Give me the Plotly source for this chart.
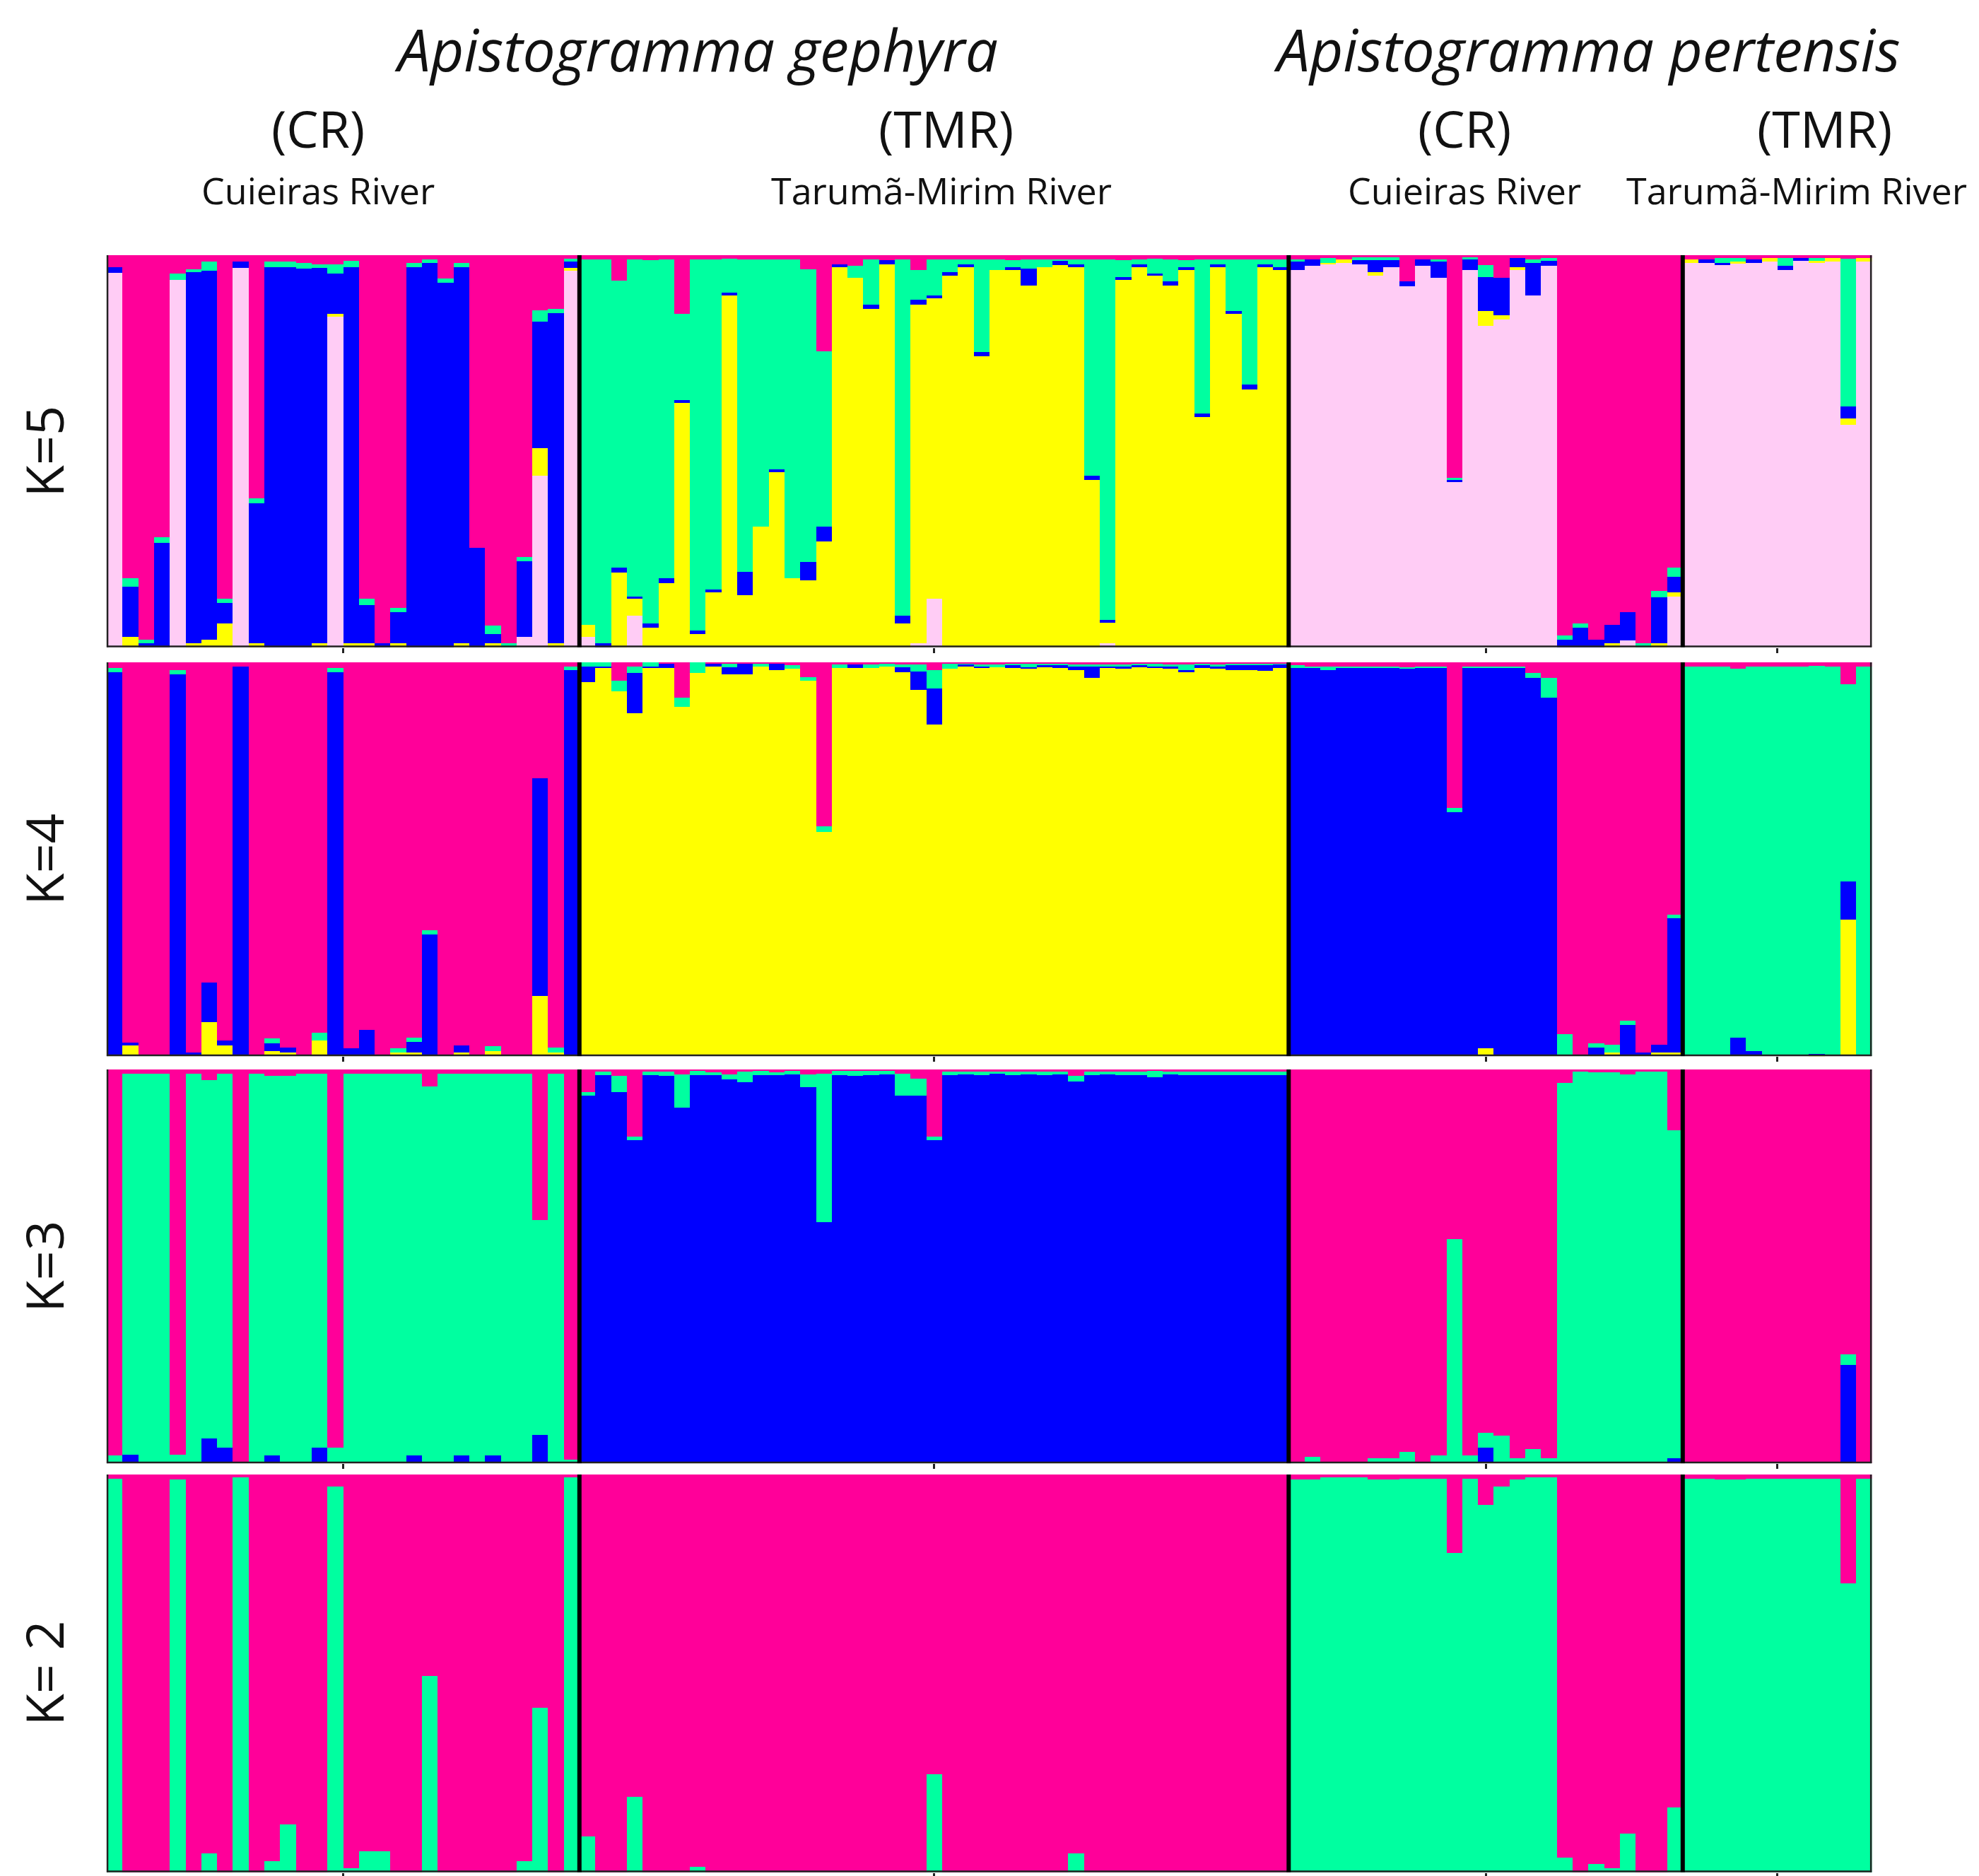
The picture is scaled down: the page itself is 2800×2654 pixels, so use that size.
import plotly.graph_objects as go

# group sizes (individuals per population), in plotting order
groups = ["A. gephyra CR", "A. gephyra TMR", "A. pertensis CR", "A. pertensis TMR"]
group_sizes = [30, 45, 25, 12]

# cluster colours
PINK = "#FF0099"
BLUE = "#0000FF"
GREEN = "#00FFA0"
YELLOW = "#FFFF00"
LPINK = "#FFCCF5"

# ---- K=5 membership (bottom -> top: light pink, yellow, blue, green, pink = rest)
k5_lightpink = (
    [.955, 0, 0, 0, .937, 0, 0, 0, .967, 0, 0, 0, 0, 0, .843, 0, 0, 0, 0, 0, 0, 0, 0, 0, 0, 0, .027, .437, 0, .96]
    + [.027, 0, 0, .08, 0, 0, 0, 0, 0, 0, 0, 0, 0, 0, 0, 0, 0, 0, 0, 0, 0, .01, .123, 0, 0, 0, 0, 0, 0, 0,
       0, 0, 0, .01, 0, 0, 0, 0, 0, 0, 0, 0, 0, 0, 0]
    + [.963, .973, .977, .98, .977, .947, .97, .92, .973, .943, .423, .963, .82, .836, .963, .897, .973,
       0, 0, 0, 0, .017, 0, 0, .13]
    + [.98, .98, .975, .978, .98, .983, .963, .985, .98, .983, .567, .983]
)
k5_yellow = (
    [0, .027, 0, 0, 0, .01, .02, .06, 0, .01, 0, 0, 0, .01, .007, .01, .01, 0, .01, 0, 0, 0, .01, 0, .01, 0, 0, .07, .01, .007]
    + [.03, 0, .19, .043, .05, .163, .623, .033, .14, .897, .133, .307, .447, .177, .17, .27, .97, .943, .863, .977,
       .06, .863, .767, .947, .97, .743, .963, .963, .923, .97, .975, .97, .427, .053, .937, .97, .947, .923, .963,
       .587, .97, .85, .657, .97, .963]
    + [0, 0, .003, .01, 0, .01, 0, 0, 0, 0, 0, 0, .037, .01, .007, 0, 0, 0, 0, 0, .01, 0, 0, .01, .01]
    + [.01, 0, 0, .005, 0, .01, 0, 0, .005, .01, .017, .01]
)
k5_blue = (
    [.015, .127, .01, .267, 0, .947, .94, .053, .017, .357, .97, .97, .965, .957, .103, .96, .097, .01, .08, .97,
     .98, .93, .96, .253, .023, 0, .193, .323, .843, .017]
    + [0, .01, .013, .007, .01, .013, .007, .01, .007, .007, .06, 0, .007, 0, .047, .037, .007, 0, .01, .01,
       .02, .013, .007, .01, .007, .01, 0, .007, .043, 0, .01, .007, .01, .007, .007, .007, .007, .01, .007, .01,
       .007, .007, .013, .007, .007]
    + [.02, .017, 0, 0, .01, .03, .017, .013, .017, .04, .003, .027, .087, .097, .023, .083, .013,
       .02, .05, .02, .047, .073, 0, .117, .04]
    + [0, .01, .005, 0, .01, 0, .01, .007, 0, 0, .03, 0]
)
k5_green = (
    [0, .023, .01, .013, .017, .007, .023, .01, 0, .013, .013, .013, .015, .01, .023, .015, .017, 0, .01, .01,
     .01, .01, .01, 0, .023, .01, .01, .03, .01, .007]
    + [.933, .98, .733, .86, .927, .814, .22, .947, .843, .087, .797, .683, .536, .813, .747, .447, 0, .03, .117, 0,
       .91, .077, .093, .033, .013, .237, .027, .017, .023, .02, .005, .013, .553, .92, .043, .013, .037, .057, .017,
       .393, .013, .133, .32, .013, .02]
    + [.007, 0, .013, 0, .007, .007, .007, 0, 0, .007, .007, .005, .03, 0, 0, .01, .007, .01, .01, 0, 0, 0, .01, .017, .023]
    + [0, 0, .013, .01, 0, 0, .02, 0, .008, 0, .377, 0]
)

# ---- K=4 membership (bottom -> top: yellow, blue, green, pink = rest)
k4_yellow = (
    [0, .027, 0, 0, 0, 0, .087, .027, 0, 0, .013, .01, 0, .04, 0, 0, 0, 0, .01, .01, 0, 0, .01, 0, .013, 0, 0, .153, .01, 0]
    + [.95, .985, .926, .87, .985, .985, .887, .973, .99, .97, .97, .99, .98, .983, .953, .57, .985, .985, .985, .99,
       .975, .93, .843, .983, .99, .985, .988, .985, .983, .988, .985, .98, .96, .985, .983, .988, .985, .983, .975,
       .985, .983, .98, .98, .978, .985]
    + [0, 0, 0, 0, 0, 0, 0, 0, 0, 0, 0, 0, .02, 0, 0, 0, 0, 0, 0, 0, .01, 0, 0, .01, .01]
    + [0, 0, 0, 0, 0, 0, 0, 0, .003, 0, .347, 0]
)
k4_blue = (
    [.975, .007, 0, 0, .97, .01, .1, .013, .99, 0, .02, .013, 0, 0, .975, .02, .067, 0, 0, .027, .31, 0, .017, 0,
     0, 0, 0, .553, 0, .98]
    + [.04, .005, 0, .103, .005, .013, 0, 0, .007, .017, .027, 0, .017, 0, 0, 0, 0, .01, 0, 0, .013, .047, .09, 0,
       .005, .005, 0, .007, .005, .005, .007, .01, .03, .005, .007, .005, .005, .007, .005, .007, .007, .013, .013,
       .015, .01]
    + [.985, .985, .98, .985, .985, .985, .985, .983, .985, .985, .62, .985, .965, .985, .985, .96, .91,
       0, 0, .023, 0, .08, .01, .02, .34]
    + [0, .005, 0, .047, .013, 0, .005, 0, .003, 0, .097, 0]
)
k4_green = (
    [.01, 0, 0, 0, .01, 0, 0, 0, 0, 0, .013, 0, 0, .02, .01, 0, 0, 0, .01, .01, .01, 0, 0, 0, .013, 0, 0, 0, .013, .01]
    + [.01, .01, .027, .017, .01, 0, .023, .027, 0, .01, 0, .007, 0, .01, .01, .013, .01, 0, .01, .007, .007, .017,
       .047, .013, .003, .005, .007, .005, .01, .003, .005, .005, .005, .005, .005, .003, .007, .005, .015, .005,
       .005, .003, .003, .003, .003]
    + [.007, .005, .01, .005, .005, .005, .005, .005, .005, .005, .01, .005, .005, .005, .005, .013, .05,
       .057, 0, .01, .02, .01, 0, 0, .01]
    + [.99, .985, .99, .936, .977, .99, .985, .99, .985, .99, .5, .99]
)

# ---- K=3 membership (bottom -> top: blue, green, pink = rest)
k3_blue = (
    [0, .023, 0, 0, 0, 0, .063, .04, 0, 0, .02, 0, 0, .04, 0, 0, 0, 0, 0, .02, 0, 0, .02, 0, .02, 0, 0, .073, 0, 0]
    + [.933, .985, .943, .82, .985, .983, .904, .985, .985, .975, .968, .985, .985, .988, .955, .613, .985, .983,
       .985, .988, .933, .934, .82, .985, .988, .985, .99, .985, .988, .985, .988, .97, .985, .988, .985, .985, .98,
       .988, .985, .985, .985, .985, .985, .985, .985]
    + [0, 0, 0, 0, 0, 0, 0, 0, 0, 0, 0, 0, .04, 0, 0, 0, 0, 0, 0, 0, 0, 0, 0, 0, .013]
    + [0, 0, 0, 0, 0, 0, 0, 0, 0, 0, .25, 0]
)
k3_green = (
    [.02, .967, .99, .99, .023, .99, .91, .95, 0, .99, .963, .983, .99, .95, .04, .99, .99, .99, .99, .97, .957,
     .99, .97, .99, .97, .99, .99, .544, .99, .01]
    + [.01, .01, .04, .01, .01, .012, .083, .013, .007, .013, .027, .013, .007, .01, .033, .377, .013, .015, .013,
       .01, .057, .043, .01, .01, .007, .01, .005, .01, .007, .01, .007, .013, .01, .007, .01, .01, .017, .007,
       .01, .01, .01, .01, .01, .01, .01]
    + [.005, .017, 0, 0, .005, .013, .013, .03, 0, .02, .57, .02, .037, .07, .013, .037, .013,
       .966, .995, .993, .993, .987, .995, .995, .833]
    + [0, 0, 0, 0, 0, 0, 0, 0, 0, 0, .027, 0]
)

# ---- K=2 membership (bottom -> top: green, pink = rest)
k2_green = (
    [.99, 0, 0, 0, .987, 0, .047, 0, .993, 0, .027, .12, 0, 0, .97, .01, .053, .053, 0, 0, .493, 0, 0, 0, 0, 0,
     .027, .413, 0, .993]
    + [.09, 0, 0, .19, 0, 0, 0, .013, 0, 0, 0, 0, 0, 0, 0, 0, 0, 0, 0, 0, 0, 0, .247, 0, 0, 0, 0, 0, 0, 0,
       0, .047, 0, 0, 0, 0, 0, 0, 0, 0, 0, 0, 0, 0, 0]
    + [.987, .987, .993, .993, .993, .987, .987, .99, .99, .99, .803, .99, .923, .97, .987, .993, .993,
       .037, 0, .02, .01, .097, 0, 0, .163]
    + [.99, .99, .987, .987, .99, .99, .99, .99, .99, .99, .727, .99]
)

k_labels = ["K=5", "K=4", "K=3", "K= 2"]

n = sum(group_sizes)
ids = list(range(n))


def rest(*cols):
    # top cluster takes what is left of each individual's membership
    return [max(0.0, 1 - sum(v)) for v in zip(*cols)]


panels = [
    [(k5_lightpink, LPINK), (k5_yellow, YELLOW), (k5_blue, BLUE), (k5_green, GREEN),
     (rest(k5_lightpink, k5_yellow, k5_blue, k5_green), PINK)],
    [(k4_yellow, YELLOW), (k4_blue, BLUE), (k4_green, GREEN), (rest(k4_yellow, k4_blue, k4_green), PINK)],
    [(k3_blue, BLUE), (k3_green, GREEN), (rest(k3_blue, k3_green), PINK)],
    [(k2_green, GREEN), (rest(k2_green), PINK)],
]

# panel vertical domains (paper), top to bottom
y_domains = [[0.658, 0.867], [0.440, 0.650], [0.223, 0.433], [0.005, 0.217]]
x_domain = [0.051, 0.943]

# group boundaries and centres
bounds = []
c = 0
centres = []
for s in group_sizes:
    centres.append(c + (s - 1) / 2)
    c += s
    bounds.append(c - 0.5)

fig = go.Figure()
shapes = []
layout = {}
for i, panel in enumerate(panels):
    ax = "" if i == 0 else str(i + 1)
    for vals, col in panel:
        fig.add_trace(go.Bar(
            x=ids, y=vals, marker_color=col, marker_line_width=0,
            xaxis="x" + ax, yaxis="y" + ax, showlegend=False, hoverinfo="skip",
        ))
    layout["xaxis" + ax] = dict(
        domain=x_domain, range=[-0.5, n - 0.5], anchor="y" + ax,
        showticklabels=False, tickvals=centres, ticks="outside", ticklen=7,
        tickwidth=3, tickcolor="#222", showgrid=False, zeroline=False, showline=False,
    )
    layout["yaxis" + ax] = dict(domain=y_domains[i], range=[0, 1], anchor="x" + ax, visible=False)

    xr, yr = "x" + ax, "y" + ax
    line = dict(color="#222", width=5)
    shapes.append(dict(type="line", xref=xr, yref=yr, x0=-0.5, x1=-0.5, y0=0, y1=1, line=line))
    shapes.append(dict(type="line", xref=xr, yref=yr, x0=n - 0.5, x1=n - 0.5, y0=0, y1=1, line=line))
    shapes.append(dict(type="line", xref=xr, yref=yr, x0=-0.5, x1=n - 0.5, y0=0, y1=0, line=line))
    for b in bounds[:-1]:
        shapes.append(dict(type="line", xref=xr, yref=yr, x0=b, x1=b, y0=0, y1=1,
                           line=dict(color="#000", width=6)))

FONT = "Open Sans"
ann = []


def label(text, x, y, size, angle=0):
    ann.append(dict(text=text, x=x, y=y, xref="paper", yref="paper", showarrow=False,
                    xanchor="center", yanchor="middle", textangle=angle,
                    font=dict(family=FONT, size=size, color="#111")))


# species titles
label("<i>Apistogramma gephyra</i>", 0.349, 0.977, 82)
label("<i>Apistogramma pertensis</i>", 0.799, 0.977, 82)
# site codes and river names
for code, river, xc, xr_ in [("(CR)", "Cuieiras River", 0.158, 0.158),
                             ("(TMR)", "Tarumã-Mirim River", 0.475, 0.473),
                             ("(CR)", "Cuieiras River", 0.737, 0.737),
                             ("(TMR)", "Tarumã-Mirim River", 0.919, 0.905)]:
    label(code, xc, 0.935, 72)
    label(river, xr_, 0.902, 52)
# K labels
for lab, d in zip(k_labels, y_domains):
    label(lab, 0.019, (d[0] + d[1]) / 2, 74, angle=-90)

fig.update_layout(
    **layout,
    barmode="stack", bargap=0,
    width=2800, height=2654,
    margin=dict(l=0, r=0, t=0, b=0),
    paper_bgcolor="white", plot_bgcolor="white",
    shapes=shapes, annotations=ann,
)

fig.write_html("out.html")
